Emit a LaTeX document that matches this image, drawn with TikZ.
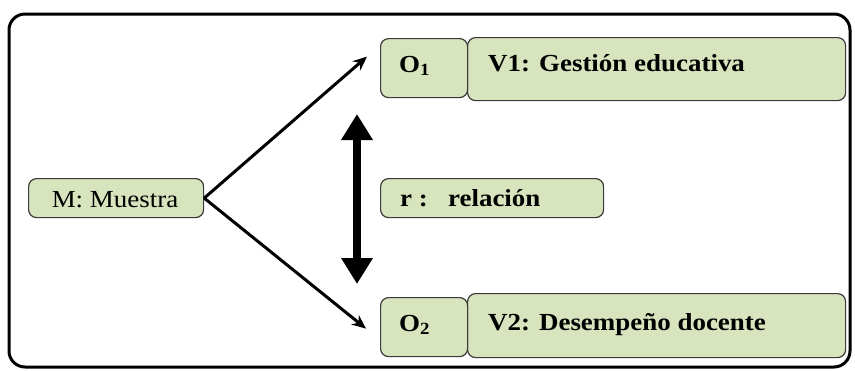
\documentclass[tikz,border=0pt]{standalone}
\usepackage{fontspec}
\setmainfont{Liberation Serif}[FakeStretch=1.1]
\usetikzlibrary{arrows.meta}
\definecolor{boxfill}{HTML}{D7E4BD}
\definecolor{boxline}{HTML}{3A3A3A}
\tikzset{
  box/.style={draw=boxline, line width=1.2pt, fill=boxfill, rounded corners=8pt, anchor=north west, inner sep=0pt},
  txt/.style={anchor=base west, inner sep=0pt, font=\fontsize{24.5}{26}\selectfont\bfseries},
  thinarrow/.style={line width=3pt, -{Stealth[length=14pt,width=12pt]}},
  bigarrow/.style={line width=8pt, {Triangle[length=26pt,width=30pt]}-{Triangle[length=26pt,width=30pt]}}
}
\begin{document}
\begin{tikzpicture}[x=1pt,y=-1pt]
\useasboundingbox (0,0) rectangle (855,370);
\fill[white] (0,0) rectangle (855,370);
\draw[line width=3pt, rounded corners=16pt] (9,14) rectangle (850,367);
% boxes
\node[box, minimum width=378pt, minimum height=63pt] (v1) at (467,37) {};
\node[box, minimum width=87pt, minimum height=59pt] (o1) at (380,38) {};
\node[box, minimum width=378pt, minimum height=64pt] (v2) at (467,293) {};
\node[box, minimum width=87pt, minimum height=59pt] (o2) at (380,297) {};
\node[box, minimum width=175pt, minimum height=39pt] (m) at (28,178) {};
\node[box, minimum width=223pt, minimum height=39pt] (r) at (380,178) {};
% texts
\node[txt] (o1t) at (399,72) {O\textsubscript{1}};
\node[txt] (v1t) at (488,71) {V1: Gestión educativa};
\node[txt] (o2t) at (399,331) {O\textsubscript{2}};
\node[txt] (v2t) at (488,330) {V2: Desempeño docente};
\node[txt, font=\fontsize{24.5}{26}\selectfont, anchor=base] (mt) at (115,207) {M: Muestra};
\node[txt] (rt) at (400,206) {r :\ \ \ relación};
% arrows
\coordinate (a1) at ([xshift=-13pt,yshift=11.5pt]o1.west);
\coordinate (a2) at ([xshift=-14pt,yshift=-1.5pt]o2.west);
\draw[thinarrow] (m.east) -- (a1);
\draw[thinarrow] (m.east) -- (a2);
\coordinate (d1) at (357,114);
\coordinate (d2) at (357,284);
\draw[bigarrow] (d1) -- (d2);
\end{tikzpicture}
\end{document}
